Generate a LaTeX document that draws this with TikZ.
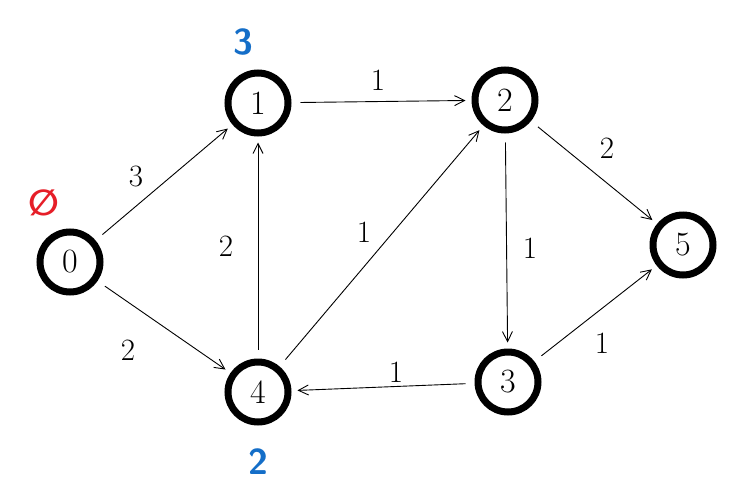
\documentclass[tikz,border=0pt]{standalone}
\usepackage{fontspec}
\newfontfamily\symfont{DejaVu Sans}
\usetikzlibrary{arrows.meta}
\begin{document}
\begin{tikzpicture}[x=1pt,y=-1pt,
  vert/.style={circle,draw=black,line width=7pt,minimum size=60pt,inner sep=0pt,font=\fontsize{34}{38}\selectfont},
  edge/.style={draw=black,line width=0.9pt,-{Straight Barb[length=10pt,width=10pt]},shorten >=6pt,shorten <=9pt},
  wlab/.style={font=\fontsize{31}{34}\selectfont},
  note/.style={font=\fontsize{36}{40}\bfseries\sffamily}]
\useasboundingbox[fill=white] (0,0) rectangle (750,501);
\node[vert] (n0) at (70,262) {0};
\node[vert] (n1) at (258,103) {1};
\node[vert] (n2) at (505,100) {2};
\node[vert] (n5) at (683,245) {5};
\node[vert] (n3) at (508,382) {3};
\node[vert] (n4) at (258,392) {4};
\draw[edge] (n0) -- (n1);
\draw[edge] (n0) -- (n4);
\draw[edge] (n4) -- (n1);
\draw[edge] (n1) -- (n2);
\draw[edge] (n4) -- (n2);
\draw[edge] (n2) -- (n3);
\draw[edge] (n2) -- (n5);
\draw[edge] (n3) -- (n5);
\draw[edge] (n3) -- (n4);
\node[wlab] (w01) at (136,176) {3};
\node[wlab] (w04) at (128,350) {2};
\node[wlab] (w41) at (226,246) {2};
\node[wlab] (w12) at (378,80) {1};
\node[wlab] (w42) at (364,232) {1};
\node[wlab] (w23) at (530,248) {1};
\node[wlab] (w25) at (607,148) {2};
\node[wlab] (w35) at (602,343) {1};
\node[wlab] (w34) at (396,372) {1};
\node[note,text={rgb,255:red,230;green,30;blue,40}] (d0) at (44,203) {\symfont\bfseries ∅};
\node[note,text={rgb,255:red,20;green,110;blue,200}] (d1) at (243,42) {3};
\node[note,text={rgb,255:red,20;green,110;blue,200}] (d4) at (258,462) {2};
\end{tikzpicture}
\end{document}
